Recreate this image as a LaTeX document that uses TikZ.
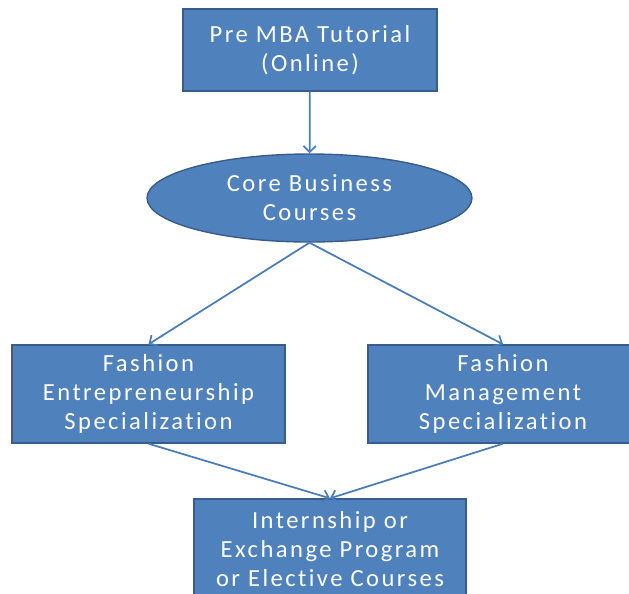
\documentclass[tikz,border=0pt]{standalone}
\usepackage{fontspec}
\setmainfont[LetterSpace=10, Ligatures=NoCommon]{Carlito}
\usepackage{xcolor}
\usetikzlibrary{shapes.geometric, arrows.meta}

\definecolor{boxfill}{HTML}{4F81BD}
\definecolor{boxline}{HTML}{385D8A}
\definecolor{arrowblue}{HTML}{4A7EBB}

\tikzset{
  stepbox/.style={rectangle, draw=boxline, fill=boxfill, line width=0.8pt,
    text=white, align=center, inner sep=0pt,
    font=\fontsize{14}{16.4}\selectfont},
  link/.style={-{Straight Barb[length=3.5pt, width=7pt]}, arrowblue, line width=1pt}
}

\begin{document}
\begin{tikzpicture}[x=0.02cm, y=-0.02cm]
            \useasboundingbox (0,0) rectangle (629,593);
            % programme stages
            \node[stepbox, minimum width=5.08cm, minimum height=1.64cm] (tutorial) at (310,50) {Pre MBA Tutorial\\(Online)};
            \node[stepbox, ellipse, minimum width=6.5cm, minimum height=1.76cm] (core) at (309.5,198) {Core Business\\Courses};
            \node[stepbox, minimum width=5.46cm, minimum height=1.96cm] (entre) at (148.5,394) {Fashion\\Entrepreneurship\\Specialization};
            \node[stepbox, minimum width=5.4cm, minimum height=1.96cm] (manage) at (503,394) {Fashion\\Management\\Specialization};
            \node[stepbox, minimum width=5.44cm, minimum height=2.0cm] (intern) at (330,549) {Internship or\\Exchange Program\\or Elective Courses};
            % flow
            \draw[link] (tutorial) -- (core);
            \draw[link] (core.south) -- (entre.north);
            \draw[link] (core.south) -- (manage.north);
            \draw[link] (entre.south) -- (intern.north);
            \draw[link] (manage.south) -- (intern.north);
\end{tikzpicture}
\end{document}
